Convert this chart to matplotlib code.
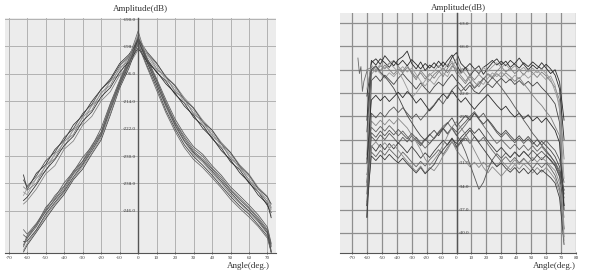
import matplotlib
matplotlib.use("Agg")
import matplotlib.pyplot as plt

plt.rcParams['font.family'] = ['Liberation Serif', 'DejaVu Serif']

# ---------------- left chart data ----------------
left_angles = [-62, -60, -55, -50, -45, -40, -35, -30, -25, -20, -15, -10, -5, 0,
               5, 10, 15, 20, 25, 30, 35, 40, 45, 50, 55, 60, 65, 70, 72]

left_outer_1 = [-235.5, -239.8, -235.0, -232.5, -228.1, -225.4, -220.9, -218.2, -214.0, -210.6, -207.5, -203.0, -200.4, -196.5,
                -201.8, -205.6, -208.1, -212.0, -214.5, -218.7, -221.0, -224.9, -227.6, -231.7, -234.0, -237.9, -240.4, -244.5, -246.5]
left_outer_2 = [-244.0, -243.0, -239.6, -235.2, -232.8, -228.0, -225.6, -221.0, -218.4, -213.9, -211.2, -206.4, -203.5, -199.0,
                -200.2, -203.0, -206.8, -209.3, -213.0, -215.9, -219.6, -222.4, -226.0, -228.9, -232.6, -235.3, -239.2, -241.8, -245.0]
left_outer_3 = [-240.5, -241.3, -236.4, -234.5, -229.2, -227.6, -222.1, -220.6, -215.0, -213.5, -207.9, -206.3, -200.8, -197.5,
                -201.0, -204.9, -206.6, -211.4, -213.1, -217.9, -219.6, -224.5, -226.1, -230.9, -232.8, -237.5, -239.2, -243.8, -247.5]
left_outer_4 = [-237.0, -238.9, -235.8, -231.4, -228.9, -224.6, -222.0, -217.6, -214.9, -210.5, -208.0, -203.6, -201.0, -195.8,
                -199.7, -202.8, -206.9, -209.5, -213.6, -216.0, -220.1, -222.4, -226.5, -229.0, -233.0, -235.6, -239.6, -242.0, -244.0]
left_outer_5 = [-243.0, -242.0, -238.3, -234.1, -231.0, -226.9, -224.2, -219.8, -217.1, -212.7, -210.0, -205.5, -202.5, -198.5,
                -202.5, -205.3, -208.9, -211.6, -215.4, -218.1, -221.9, -224.6, -228.4, -231.1, -234.9, -237.6, -241.4, -244.0, -248.0]
left_outer_6 = [-239.0, -240.0, -237.9, -232.8, -230.7, -225.7, -223.7, -218.5, -216.6, -211.4, -209.4, -204.2, -202.3, -197.0,
                -200.0, -204.5, -207.0, -211.0, -213.5, -217.5, -220.0, -223.8, -226.5, -230.4, -233.3, -236.9, -240.5, -243.3, -245.5]
left_outer_7 = [-241.5, -239.4, -236.6, -233.0, -229.6, -226.0, -222.5, -218.9, -215.4, -211.9, -208.3, -204.8, -201.2, -194.5,
                -200.5, -203.6, -207.8, -210.1, -214.4, -216.6, -220.8, -223.0, -227.3, -229.5, -233.8, -236.0, -240.3, -242.6, -246.5]

left_inner_1 = [-256.0, -253.2, -250.1, -245.0, -242.1, -237.8, -234.6, -230.4, -227.2, -221.9, -214.6, -207.9, -201.8, -195.0,
                -201.6, -207.4, -213.5, -219.2, -223.6, -227.3, -229.5, -232.8, -235.6, -239.0, -241.6, -244.3, -247.2, -250.8, -255.5]
left_inner_2 = [-258.0, -256.0, -252.2, -248.3, -244.5, -241.2, -236.9, -233.8, -229.4, -225.3, -218.0, -210.2, -204.4, -197.0,
                -203.8, -209.9, -216.6, -222.0, -226.7, -230.1, -232.7, -235.6, -238.7, -241.8, -244.6, -247.0, -250.1, -253.4, -258.0]
left_inner_3 = [-251.5, -252.8, -249.6, -245.6, -241.5, -238.8, -234.3, -231.5, -226.8, -223.0, -214.9, -208.6, -201.5, -193.5,
                -202.3, -208.0, -214.2, -220.0, -224.3, -228.0, -230.1, -233.5, -236.2, -239.7, -242.3, -245.0, -247.9, -251.5, -256.0]
left_inner_4 = [-257.5, -255.5, -251.8, -247.6, -244.0, -240.6, -236.6, -233.0, -229.2, -224.6, -217.5, -209.8, -203.7, -196.5,
                -203.0, -209.2, -215.7, -221.4, -225.8, -229.5, -231.8, -234.9, -237.9, -241.2, -243.8, -246.4, -249.3, -252.8, -257.5]
left_inner_5 = [-253.0, -254.0, -250.6, -246.0, -242.6, -239.0, -235.0, -231.6, -227.6, -223.2, -215.6, -208.5, -202.6, -195.5,
                -202.0, -208.0, -214.6, -220.3, -224.8, -228.6, -230.9, -233.8, -236.8, -240.0, -242.8, -245.3, -248.4, -251.9, -256.5]
left_inner_6 = [-255.0, -254.8, -251.5, -247.0, -243.5, -240.2, -236.1, -232.5, -228.5, -224.0, -216.5, -209.4, -203.3, -196.0,
                -202.8, -208.9, -215.2, -220.9, -225.5, -229.0, -231.4, -234.4, -237.4, -240.6, -243.5, -246.0, -248.9, -252.4, -258.0]
left_inner_7 = [-256.5, -253.9, -249.9, -246.3, -242.8, -239.7, -235.3, -232.2, -227.9, -223.6, -216.2, -209.0, -202.9, -197.5,
                -204.3, -210.8, -217.3, -222.8, -227.5, -231.0, -233.4, -236.3, -239.3, -242.6, -245.3, -247.8, -250.6, -254.0, -258.2]

left_yticks = [-190, -198, -206, -214, -222, -230, -238, -246]
left_xticks = [-70, -60, -50, -40, -30, -20, -10, 0, 10, 20, 30, 40, 50, 60, 70]

# ---------------- right chart data ----------------
right_angles = [-60, -57, -54, -51, -48, -45, -42, -39, -36, -33, -30, -27, -24, -21, -18,
                -15, -12, -9, -6, -3, 0, 3, 6, 9, 12, 15, 18, 21, 24, 27,
                30, 33, 36, 39, 42, 45, 48, 51, 54, 57, 60, 63, 66, 69, 72]

right_upper_1 = [-22.4, -18.1, -17.6, -18.3, -17.2, -17.9, -18.5, -17.7, -17.3, -16.6, -18.2, -18.9, -18.0, -19.1, -18.4,
                 -18.8, -17.9, -18.6, -17.8, -17.1, -18.3, -19.4, -18.7, -19.8, -19.0, -18.5, -19.6, -18.8, -18.1, -17.6,
                 -18.4, -17.9, -18.7, -18.2, -17.5, -18.3, -19.0, -18.4, -18.9, -18.1, -18.8, -19.5, -19.0, -20.6, -25.5]
right_upper_2 = [-19.0, -18.7, -19.3, -18.5, -18.9, -18.2, -17.8, -18.6, -19.2, -18.4, -19.5, -20.3, -19.1, -19.8, -20.4,
                 -19.6, -19.1, -19.9, -18.8, -18.1, -19.5, -20.1, -20.8, -19.9, -20.6, -21.2, -20.2, -19.5, -19.9, -19.2,
                 -18.6, -19.3, -18.8, -19.5, -19.0, -19.7, -18.9, -19.4, -20.0, -19.3, -19.8, -20.5, -21.3, -22.9, -30.5]
right_upper_3 = [-34.0, -19.6, -18.9, -19.5, -20.1, -19.4, -19.9, -19.2, -18.6, -19.3, -18.8, -19.6, -20.5, -21.1, -20.3,
                 -20.9, -20.0, -19.4, -19.9, -18.7, -17.6, -18.9, -19.6, -20.4, -21.3, -20.5, -20.9, -20.1, -19.4, -19.9,
                 -19.3, -19.8, -20.4, -19.7, -20.2, -19.5, -20.1, -19.6, -19.1, -19.7, -20.3, -19.8, -21.0, -24.2, -33.0]
right_upper_4 = [-38.0, -20.4, -19.8, -20.5, -19.7, -20.3, -20.9, -20.1, -19.5, -20.2, -20.8, -21.5, -20.7, -21.4, -22.0,
                 -21.2, -20.6, -21.1, -20.3, -19.6, -20.4, -21.0, -21.7, -21.0, -21.8, -22.1, -21.4, -20.8, -21.3, -20.6,
                 -20.1, -20.7, -20.2, -20.9, -20.4, -21.0, -20.5, -21.1, -20.6, -21.3, -21.9, -22.6, -23.4, -25.8, -36.5]
right_upper_5 = [-25.5, -17.8, -18.4, -17.6, -18.1, -18.7, -17.9, -18.4, -17.8, -18.5, -17.7, -18.3, -18.9, -18.2, -18.8,
                 -18.1, -18.7, -18.0, -18.6, -17.4, -16.8, -18.2, -18.8, -18.2, -18.9, -19.5, -18.7, -18.3, -17.8, -18.4,
                 -17.9, -18.5, -17.8, -18.3, -18.8, -18.1, -18.6, -18.0, -18.5, -18.9, -18.3, -18.9, -19.7, -21.5, -28.0]
right_upper_6 = [-30.0, -19.2, -18.6, -19.1, -18.4, -19.0, -19.6, -18.9, -19.4, -18.7, -19.3, -20.0, -19.4, -20.2, -19.5,
                 -20.1, -19.3, -18.8, -19.4, -18.5, -19.0, -19.8, -20.5, -19.7, -20.3, -19.6, -20.2, -19.6, -20.1, -19.5,
                 -20.0, -19.4, -19.9, -20.5, -20.0, -20.8, -21.5, -22.3, -23.0, -23.6, -24.4, -25.1, -26.3, -27.5, -39.5]
right_upper_7 = [-21.5, -18.4, -19.0, -18.3, -18.8, -18.1, -18.7, -19.3, -20.2, -21.4, -22.6, -22.0, -21.2, -20.4, -19.7,
                 -19.2, -18.5, -19.1, -18.3, -17.9, -18.9, -19.5, -19.0, -19.6, -18.9, -19.4, -18.7, -19.2, -18.6, -18.1,
                 -18.7, -18.3, -19.0, -18.5, -19.1, -18.7, -19.3, -18.8, -19.4, -18.9, -19.5, -20.2, -21.8, -23.5, -41.0]

right_mid_1 = [-27.0, -19.0, -18.5, -19.3, -19.9, -20.6, -21.4, -22.5, -23.7, -24.9, -25.8, -26.7, -27.5, -28.1, -27.4,
               -26.8, -27.5, -26.6, -25.9, -25.2, -26.3, -25.6, -24.9, -25.5, -24.6, -25.3, -26.0, -25.4, -26.1, -26.9,
               -27.4, -26.8, -27.5, -28.1, -27.5, -28.2, -27.6, -28.3, -28.9, -28.2, -28.8, -29.4, -30.2, -31.5, -35.0]
right_mid_2 = [-31.0, -22.9, -22.3, -23.0, -22.4, -23.1, -22.5, -21.9, -22.6, -21.8, -22.4, -23.3, -22.7, -23.5, -24.3,
               -23.6, -22.8, -22.1, -22.7, -21.7, -22.5, -23.2, -22.6, -23.4, -24.1, -23.4, -22.8, -22.2, -22.9, -23.6,
               -24.2, -23.7, -24.5, -25.1, -24.6, -25.3, -24.8, -25.6, -25.1, -25.8, -25.2, -26.0, -26.8, -28.4, -37.0]
right_mid_3 = [-36.5, -24.6, -25.2, -24.5, -25.1, -24.3, -23.8, -24.5, -23.9, -24.6, -25.3, -24.7, -25.5, -24.8, -24.1,
               -23.5, -22.7, -23.4, -22.5, -21.6, -21.0, -21.8, -21.2, -20.6, -21.4, -20.8, -20.1, -20.7, -20.0, -20.6,
               -21.3, -22.1, -22.9, -23.8, -24.6, -25.5, -26.3, -27.2, -27.9, -28.7, -29.4, -30.1, -31.0, -32.3, -34.5]

right_lower_1 = [-35.0, -27.6, -28.2, -27.4, -28.0, -27.2, -27.8, -28.5, -27.7, -28.3, -27.5, -28.1, -28.8, -28.0, -27.3,
                 -27.9, -27.1, -26.5, -27.2, -26.4, -27.0, -26.3, -25.7, -25.0, -24.4, -25.2, -24.6, -25.5, -26.3, -27.1,
                 -27.7, -27.1, -27.8, -28.4, -27.8, -28.5, -27.9, -28.6, -28.0, -28.7, -28.1, -28.8, -29.4, -30.6, -33.5]
right_lower_2 = [-38.0, -28.8, -29.5, -28.6, -29.3, -28.5, -29.2, -28.4, -29.0, -29.7, -28.9, -29.6, -30.4, -29.7, -30.3,
                 -29.5, -28.8, -28.1, -28.7, -27.9, -28.5, -27.7, -27.1, -26.5, -27.2, -26.6, -27.4, -28.2, -28.9, -29.6,
                 -29.0, -29.7, -30.3, -29.6, -30.2, -29.5, -30.1, -30.7, -30.0, -30.6, -30.0, -30.7, -31.4, -32.8, -36.5]
right_lower_3 = [-32.5, -29.6, -30.2, -29.4, -30.0, -29.2, -29.8, -30.4, -29.6, -30.2, -30.9, -31.5, -30.8, -31.4, -30.6,
                 -30.0, -29.3, -29.9, -29.0, -28.3, -29.1, -28.4, -27.8, -28.5, -27.6, -28.3, -27.7, -28.6, -29.4, -30.1,
                 -30.8, -30.2, -30.9, -30.3, -31.0, -30.4, -31.1, -31.7, -31.0, -31.6, -31.0, -31.7, -32.6, -34.3, -39.5]
right_lower_4 = [-36.0, -28.9, -28.3, -29.0, -28.4, -29.1, -28.6, -29.4, -30.1, -30.8, -31.5, -32.1, -31.4, -32.3, -31.6,
                 -32.0, -31.2, -30.1, -29.3, -28.2, -29.4, -30.1, -30.8, -31.5, -30.9, -31.6, -30.9, -31.5, -30.8, -31.4,
                 -30.7, -31.3, -31.9, -31.2, -31.8, -31.1, -31.7, -32.3, -31.6, -32.2, -31.6, -32.3, -33.1, -34.8, -40.5]
right_lower_5 = [-33.5, -27.1, -27.7, -26.9, -27.5, -26.8, -27.4, -26.7, -27.3, -27.9, -27.2, -27.8, -28.6, -27.9, -28.5,
                 -27.8, -27.2, -26.6, -27.3, -26.5, -27.4, -28.3, -29.6, -31.2, -32.8, -34.4, -33.5, -31.9, -30.6, -29.8,
                 -30.4, -29.7, -30.3, -29.6, -30.2, -29.5, -30.1, -29.4, -30.0, -29.5, -30.1, -30.6, -31.3, -32.6, -35.5]
right_lower_6 = [-36.5, -30.1, -30.7, -30.0, -30.6, -29.9, -30.5, -31.0, -30.4, -31.1, -31.7, -32.3, -31.6, -32.4, -31.8,
                 -31.2, -30.1, -29.3, -28.6, -27.8, -28.9, -28.2, -27.5, -26.8, -27.6, -28.4, -29.2, -30.0, -30.8, -31.5,
                 -31.0, -31.7, -32.2, -31.6, -32.3, -31.7, -32.4, -31.8, -32.5, -31.9, -32.4, -32.9, -33.6, -35.5, -41.5]
right_lower_7 = [-30.5, -26.4, -27.0, -26.3, -26.9, -26.2, -26.8, -27.5, -26.9, -27.6, -28.3, -27.7, -28.4, -29.1, -28.5,
                 -27.8, -27.0, -26.3, -25.8, -26.6, -27.5, -26.8, -26.1, -25.3, -24.6, -25.4, -26.2, -27.0, -27.8, -28.5,
                 -28.0, -28.6, -29.2, -28.6, -29.3, -28.7, -29.4, -28.8, -29.5, -28.9, -29.6, -30.2, -30.9, -32.0, -34.5]
right_lower_8 = [-34.0, -25.6, -26.2, -25.5, -26.1, -25.4, -26.0, -25.3, -25.9, -26.5, -27.4, -28.3, -29.3, -30.5, -31.3,
                 -30.6, -29.8, -28.7, -27.5, -26.4, -25.7, -26.5, -27.3, -28.2, -29.4, -30.5, -31.6, -32.3, -31.5, -32.1,
                 -32.7, -32.0, -31.3, -30.6, -31.2, -30.5, -31.0, -30.3, -30.9, -30.3, -30.8, -31.4, -32.0, -33.6, -38.0]

right_edge_angles = [-66, -65, -64, -63, -62, -60]
right_edge_values = [-17.5, -19.5, -18.6, -21.8, -20.5, -19.2]

right_yticks = [-13, -16, -19, -22, -25, -28, -31, -34, -37, -40]
right_xticks = [-70, -60, -50, -40, -30, -20, -10, 0, 10, 20, 30, 40, 50, 60, 70, 80]

line_grays = ['#2a2a2a', '#555555', '#7d7d7d', '#3c3c3c', '#999999', '#626262', '#444444', '#888888']

W, H = 598, 273
fig = plt.figure(figsize=(W / 100, H / 100), dpi=100)
fig.patch.set_facecolor('white')


def style_axes(ax, grid_color, grid_lw):
    ax.set_facecolor('#ececec')
    ax.grid(True, color=grid_color, linewidth=grid_lw)
    ax.set_axisbelow(True)
    for s in ['top', 'right']:
        ax.spines[s].set_visible(False)
    ax.spines['bottom'].set_color('#555555')
    ax.spines['bottom'].set_linewidth(0.8)
    ax.tick_params(axis='x', labelsize=3.6, length=2, width=0.5, pad=1.5, colors='#333333', direction='inout')
    ax.tick_params(axis='y', labelsize=3.6, length=0, pad=1.5, colors='#333333')


# left chart
ax1 = fig.add_axes([5 / W, 20 / H, 271 / W, 235 / H])
style_axes(ax1, '#b2b2b2', 0.7)
left_curves = [left_outer_1, left_inner_1, left_outer_2, left_inner_2, left_outer_3, left_inner_3,
               left_outer_4, left_inner_4, left_outer_5, left_inner_5, left_outer_6, left_inner_6,
               left_outer_7, left_inner_7]
for i, c in enumerate(left_curves):
    ax1.plot(left_angles, c, color=line_grays[i % len(line_grays)], linewidth=0.55)
ax1.set_xlim(-72, 74.6)
ax1.set_ylim(-258.3, -189.7)
ax1.set_xticks(left_xticks)
ax1.set_xticklabels([str(v) for v in left_xticks])
ax1.set_yticks(left_yticks)
ax1.set_yticklabels(['%.1f' % v for v in left_yticks])
ax1.spines['left'].set_position(('data', 0))
ax1.spines['left'].set_color('#555555')
ax1.spines['left'].set_linewidth(1.0)

# right chart
ax2 = fig.add_axes([340 / W, 20 / H, 236 / W, 240 / H])
style_axes(ax2, '#8e8e8e', 0.9)
right_curves = [right_upper_1, right_lower_1, right_upper_2, right_lower_2, right_upper_3, right_lower_3,
                right_upper_4, right_lower_4, right_upper_5, right_lower_5, right_upper_6, right_lower_6,
                right_upper_7, right_lower_7, right_mid_1, right_lower_8, right_mid_2, right_mid_3]
for i, c in enumerate(right_curves):
    ax2.plot(right_angles, c, color=line_grays[i % len(line_grays)], linewidth=0.6)
ax2.plot(right_edge_angles, right_edge_values, color='#6a6a6a', linewidth=0.6)
ax2.set_xlim(-78, 79.5)
ax2.set_ylim(-42.6, -11.7)
ax2.set_xticks(right_xticks)
ax2.set_xticklabels([str(v) for v in right_xticks])
ax2.set_yticks(right_yticks)
ax2.set_yticklabels(['%.1f' % v for v in right_yticks])
ax2.spines['left'].set_visible(False)
ax2.spines['right'].set_visible(True)
ax2.spines['right'].set_position(('data', 0))
ax2.spines['right'].set_color('#555555')
ax2.spines['right'].set_linewidth(1.0)
ax2.yaxis.tick_right()

# titles / axis names
fig.text(140 / W, 1 - 9 / H, 'Amplitude(dB)', ha='center', va='center', fontsize=6.5, color='#333333')
fig.text(458 / W, 1 - 8 / H, 'Amplitude(dB)', ha='center', va='center', fontsize=6.5, color='#333333')
fig.text(270 / W, 1 - 266 / H, 'Angle(deg.)', ha='right', va='center', fontsize=6.5, color='#333333')
fig.text(576 / W, 1 - 266 / H, 'Angle(deg.)', ha='right', va='center', fontsize=6.5, color='#333333')

fig.savefig('out.png', dpi=100, facecolor='white')
